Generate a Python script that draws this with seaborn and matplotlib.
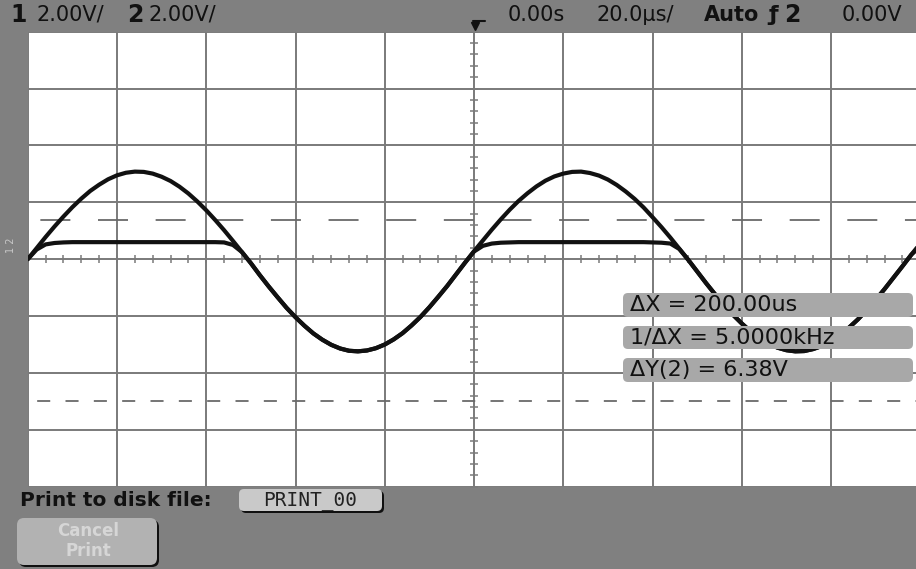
import numpy as np
import pandas as pd
import matplotlib
matplotlib.use("Agg")
import matplotlib.pyplot as plt
import seaborn as sns
from matplotlib.patches import FancyBboxPatch
from matplotlib.lines import Line2D
from matplotlib.transforms import IdentityTransform

# scope screen: 20 us/div, 2 V/div, 10 x 8 divisions
time_us = list(range(-100, 101, 2))

# channel 1: the sine input (volts)
ch1_volts = [0.00, 0.39, 0.78, 1.15, 1.50, 1.83, 2.13, 2.40, 2.62, 2.81,
             2.95, 3.04, 3.08, 3.07, 3.01, 2.90, 2.75, 2.55, 2.31, 2.03,
             1.72, 1.38, 1.02, 0.64, 0.25, -0.14, -0.56, -0.96, -1.34, -1.71,
             -2.04, -2.34, -2.61, -2.83, -3.01, -3.14, -3.22, -3.24, -3.21, -3.13,
             -3.00, -2.82, -2.60, -2.33, -2.03, -1.69, -1.32, -0.94, -0.53, -0.12,
             0.28, 0.66, 1.04, 1.40, 1.74, 2.05, 2.32, 2.56, 2.76, 2.91,
             3.01, 3.07, 3.08, 3.03, 2.94, 2.80, 2.61, 2.38, 2.12, 1.82,
             1.48, 1.13, 0.76, 0.37, -0.02, -0.43, -0.84, -1.23, -1.60, -1.95,
             -2.26, -2.54, -2.77, -2.96, -3.11, -3.20, -3.24, -3.23, -3.16, -3.05,
             -2.88, -2.67, -2.41, -2.12, -1.79, -1.43, -1.05, -0.65, -0.25, 0.16,
             0.55]

# channel 2: clipped output, flat at about +0.6 V, follows ch1 below zero
ch2_volts = [0.00, 0.34, 0.52, 0.57, 0.59, 0.60, 0.60, 0.60, 0.60, 0.60,
             0.60, 0.60, 0.60, 0.60, 0.60, 0.60, 0.60, 0.60, 0.60, 0.60,
             0.60, 0.60, 0.59, 0.50, 0.25, -0.14, -0.56, -0.96, -1.34, -1.71,
             -2.04, -2.34, -2.61, -2.83, -3.01, -3.14, -3.22, -3.24, -3.21, -3.13,
             -3.00, -2.82, -2.60, -2.33, -2.03, -1.69, -1.32, -0.94, -0.53, -0.12,
             0.27, 0.47, 0.55, 0.58, 0.59, 0.60, 0.60, 0.60, 0.60, 0.60,
             0.60, 0.60, 0.60, 0.60, 0.60, 0.60, 0.60, 0.60, 0.60, 0.60,
             0.59, 0.58, 0.55, 0.36, -0.02, -0.43, -0.84, -1.23, -1.60, -1.95,
             -2.26, -2.54, -2.77, -2.96, -3.11, -3.20, -3.24, -3.23, -3.16, -3.05,
             -2.88, -2.67, -2.41, -2.12, -1.79, -1.43, -1.05, -0.65, -0.25, 0.16,
             0.45]

# Y cursors (volts)
cursor_top = 1.38
cursor_bottom = -5.00

readouts = ["\u0394X = 200.00us", "1/\u0394X = 5.0000kHz", "\u0394Y(2) = 6.38V"]

W, H = 916, 569
BG = "#808080"
GRID = "#7a7a7a"

sns.set_theme(style="white")
plt.rcParams["font.family"] = ["DejaVu Sans"]
plt.rcParams["lines.scale_dashes"] = False

df = pd.DataFrame({"t": time_us, "ch1": ch1_volts, "ch2": ch2_volts})

fig = plt.figure(figsize=(W / 100, H / 100), dpi=100)
fig.patch.set_facecolor(BG)

# graticule spans x 27.75..920.25 px, y 31.7..486.7 px
ax = fig.add_axes([27.75 / W, (H - 486.7) / H, 892.5 / W, 455.0 / H])
ax.set_facecolor("white")
ax.set_xlim(-100, 100)
ax.set_ylim(-8, 8)
ax.set_xticks(np.arange(-100, 101, 20))
ax.set_yticks(np.arange(-8, 9, 2))
ax.grid(True, color=GRID, lw=1.4)
ax.tick_params(length=0, labelbottom=False, labelleft=False)
for s in ax.spines.values():
    s.set_visible(False)

# small ticks on the centre lines
ax.plot(np.arange(-100, 101, 4), np.zeros(51), ls="none", marker="|",
        ms=5.5, mew=1.1, color=GRID)
ax.plot(np.zeros(41), np.arange(-8, 8.01, 0.4), ls="none", marker="_",
        ms=5.5, mew=1.1, color=GRID)

# cursor lines
ax.axhline(cursor_top, color="#6a6a6a", lw=1.3, ls=(32.6, (21.6, 19.9)))
ax.axhline(cursor_bottom, color="#6a6a6a", lw=1.3, ls=(13.8, (9.4, 11.0)))

# traces
sns.lineplot(data=df, x="t", y="ch1", color="#111111", lw=3.0, ax=ax)
sns.lineplot(data=df, x="t", y="ch2", color="#111111", lw=3.0, ax=ax)
ax.set_xlabel("")
ax.set_ylabel("")


def px(x, y):
    return x / W, 1 - y / H


def rbox(x0, y0, x1, y1, fc, shadow=True, r=6):
    if shadow:
        fig.add_artist(FancyBboxPatch((x0 + 2, H - y1 - 2), x1 - x0, y1 - y0,
                                      boxstyle=f"round,pad=0,rounding_size={r}",
                                      fc="#101010", ec="none", transform=IdentityTransform()))
    fig.add_artist(FancyBboxPatch((x0, H - y1), x1 - x0, y1 - y0,
                                  boxstyle=f"round,pad=0,rounding_size={r}",
                                  fc=fc, ec="none", transform=IdentityTransform()))


# top status bar
top = dict(va="center", ha="left", color="#111111")
fig.text(*px(10, 15), "1", fontsize=17, fontweight="bold", **top)
fig.text(*px(36, 15), "2.00V/", fontsize=15, **top)
fig.text(*px(127, 15), "2", fontsize=17, fontweight="bold", **top)
fig.text(*px(149, 15), "2.00V/", fontsize=15, **top)
fig.text(*px(508, 15), "0.00s", fontsize=15, **top)
fig.text(*px(596, 15), "20.0\u00b5s/", fontsize=15, **top)
fig.text(*px(704, 15), "Auto", fontsize=15, fontweight="bold", **top)
fig.text(*px(768, 15), "\u0192", fontsize=16, fontweight="bold", **top)
fig.text(*px(784, 15), "2", fontsize=17, fontweight="bold", **top)
fig.text(*px(842, 15), "0.00V", fontsize=15, **top)

# time reference marker
fig.add_artist(Line2D([473, 485], [H - 21, H - 21], color="#111111", lw=1.5,
                      transform=IdentityTransform()))
fig.add_artist(Line2D([475], [H - 26], marker="v", ms=6, color="#111111",
                      transform=IdentityTransform()))
fig.add_artist(Line2D([475, 475], [H - 21, H - 27], color="#111111", lw=1.5,
                      transform=IdentityTransform()))

# ground marker on the left strip
fig.text(*px(11, 245), "1 2", rotation=90, fontsize=7, color="#c8c8c8",
         ha="center", va="center")

# cursor readouts
for (y0, y1), label in zip([(293, 317), (326, 349), (358, 382)], readouts):
    rbox(623, y0, 913, y1, "#a8a8a8", shadow=False, r=5)
    fig.text(*px(630, (y0 + y1) / 2), label, fontsize=16, color="#111111",
             ha="left", va="center")

# bottom softkey area
fig.text(*px(20, 501), "Print to disk file:", fontsize=14.5, fontweight="bold",
         color="#111111", ha="left", va="center")
rbox(239, 489, 382, 511, "#c9c9c9", r=5)
fig.text(*px(310, 500), "PRINT_00", fontsize=14, family="DejaVu Sans Mono",
         color="#222222", ha="center", va="center")
rbox(17, 518, 157, 565, "#b2b2b2", r=7)
fig.text(*px(88, 531), "Cancel", fontsize=12, fontweight="bold", color="#d6d6d6",
         ha="center", va="center")
fig.text(*px(88, 551), "Print", fontsize=12, fontweight="bold", color="#d6d6d6",
         ha="center", va="center")

fig.savefig("out.png", dpi=100, facecolor=fig.get_facecolor())
